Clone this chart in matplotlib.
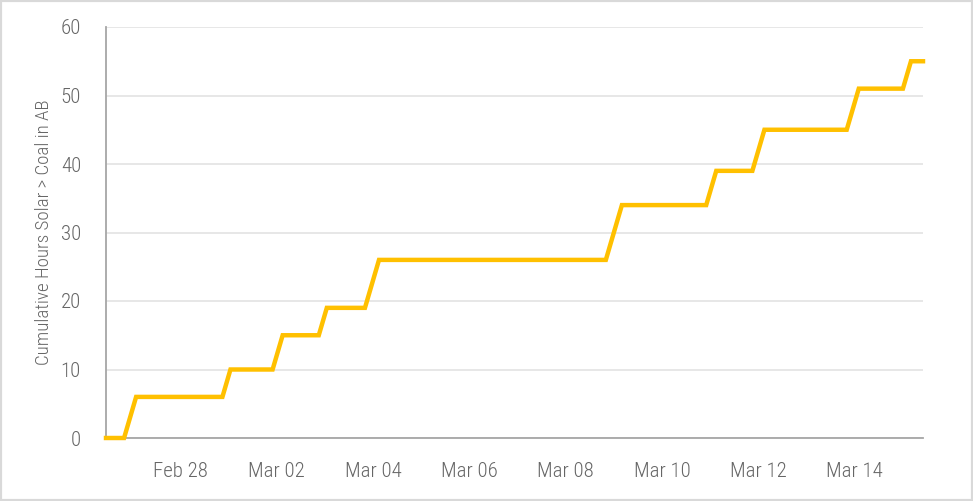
import matplotlib
matplotlib.use("Agg")
import matplotlib.pyplot as plt
from matplotlib.patches import Rectangle
from matplotlib import font_manager
import pandas as pd

# Corner points of the cumulative step line
times = [
    "2025-02-26 11:00", "2025-02-26 20:00", "2025-02-27 02:00",
    "2025-02-28 21:00", "2025-03-01 01:00",
    "2025-03-01 22:00", "2025-03-02 03:00",
    "2025-03-02 21:00", "2025-03-03 01:00",
    "2025-03-03 20:00", "2025-03-04 03:00",
    "2025-03-08 20:00", "2025-03-09 04:00",
    "2025-03-10 22:00", "2025-03-11 03:00",
    "2025-03-11 21:00", "2025-03-12 03:00",
    "2025-03-13 20:00", "2025-03-14 02:00",
    "2025-03-15 00:00", "2025-03-15 04:00",
    "2025-03-15 10:00",
]
cum_hours = [
    0, 0, 6,
    6, 10,
    10, 15,
    15, 19,
    19, 26,
    26, 34,
    34, 39,
    39, 45,
    45, 51,
    51, 55,
    55,
]
y_ticks = [0, 10, 20, 30, 40, 50, 60]
x_tick_dates = ["2025-02-28", "2025-03-02", "2025-03-04", "2025-03-06",
                "2025-03-08", "2025-03-10", "2025-03-12", "2025-03-14"]
x_tick_labels = ["Feb 28", "Mar 02", "Mar 04", "Mar 06",
                 "Mar 08", "Mar 10", "Mar 12", "Mar 14"]
y_label = "Cumulative Hours Solar > Coal in AB"

# Pick a light condensed face if one is installed
def _w(v):
    try:
        return int(v)
    except Exception:
        return {"light": 300, "normal": 400, "regular": 400, "bold": 700}.get(str(v), 400)

prefs = ["Open Sans Condensed Light", "Open Sans Condensed", "Roboto Condensed Light",
         "Roboto Condensed", "Barlow Semi Condensed", "Asap Condensed", "Archivo Narrow"]
fonts = font_manager.fontManager.ttflist
choice = None
for name in prefs:
    cands = [f for f in fonts if f.name == name and str(f.style) == "normal"]
    if cands:
        best = min(cands, key=lambda f: abs(_w(f.weight) - 300))
        if abs(_w(best.weight) - 300) <= 100:
            choice = best
            break
if choice is None:
    for name in prefs:
        cands = [f for f in fonts if f.name == name]
        if cands:
            choice = min(cands, key=lambda f: abs(_w(f.weight) - 300))
            break

if choice is not None:
    fp = font_manager.FontProperties(fname=choice.fname)
    plt.rcParams["font.family"] = [choice.name, "DejaVu Sans"]
    plt.rcParams["font.weight"] = _w(choice.weight)
else:
    fp = None
    plt.rcParams["font.family"] = ["DejaVu Sans"]

t = pd.to_datetime(times)
xt = pd.to_datetime(x_tick_dates)

fig = plt.figure(figsize=(9.73, 5.01), dpi=100)
ax = fig.add_axes([106 / 973, 1 - 438 / 501, (923 - 106) / 973, (438 - 27) / 501])

ax.plot(t, cum_hours, color="#FFC000", lw=3.2, solid_joinstyle="miter", zorder=3, clip_on=False)

ax.set_xlim(t[0], t[-1])
ax.set_ylim(0, 60)
ax.set_yticks(y_ticks)
ax.set_xticks(xt)
ax.set_xticklabels(x_tick_labels)

txt_color = "#666666"
ax.tick_params(axis="both", length=0, labelsize=15, labelcolor=txt_color)
ax.tick_params(axis="x", pad=17)
ax.tick_params(axis="y", pad=18)
if fp is not None:
    for lab in ax.get_xticklabels() + ax.get_yticklabels():
        lab.set_fontproperties(fp)
        lab.set_fontsize(15)

ax.grid(axis="y", color="#e3e3e3", lw=1.2)
ax.set_axisbelow(True)
for s in ["top", "right"]:
    ax.spines[s].set_visible(False)
for s in ["left", "bottom"]:
    ax.spines[s].set_color("#a6a6a6")
    ax.spines[s].set_linewidth(1.3)

yl = fig.text(44 / 973, 1 - 232 / 501, y_label, rotation=90, va="center", ha="center",
              color=txt_color)
if fp is not None:
    yl.set_fontproperties(fp)
yl.set_fontsize(13.7)

fig.patches.append(Rectangle((0, 0), 1, 1, transform=fig.transFigure, fill=False,
                             edgecolor="#d9d9d9", lw=3))

fig.savefig("out.png", dpi=100)
